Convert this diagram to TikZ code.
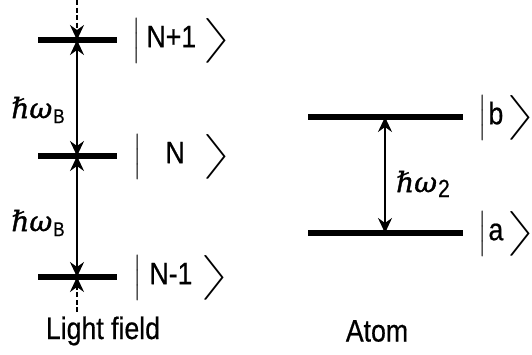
\documentclass[tikz,border=0pt]{standalone}
\usepackage{amsmath}
\usepackage{fontspec}
\setmainfont[FakeBold=0.6,AutoFakeBold=0.6]{Liberation Sans}
\newfontfamily\hfont[FakeBold=1.2,AutoFakeBold=1.2]{DejaVu Serif}
\usetikzlibrary{arrows.meta}
\newcommand\hwsub[2]{{\hfont\itshape ℏω}\kern1pt\raisebox{-5pt}{\fontsize{#2}{#2}\selectfont\scalebox{0.85}[1]{\bfseries #1}}}
\newcommand\ketbar{$\Big|$}
\newcommand\ketang{\scalebox{1.9}[1]{$\Big\rangle$}}
\begin{document}
\begin{tikzpicture}[x=1pt,y=-1pt,
  tip/.tip={Stealth[length=15pt,width=14pt,inset=5pt]},
  level/.style={line width=5.5pt},
  trans/.style={line width=1.8pt,tip-tip},
  feed/.style={line width=1.6pt,dash pattern=on 5pt off 2.5pt,-tip},
  lab/.style={font=\fontsize{31}{30}\selectfont\bfseries,inner sep=0pt},
  energy/.style={font=\fontsize{28}{30}\selectfont,inner sep=0pt}]
\useasboundingbox (0,0) rectangle (532,354);
% light field levels
\coordinate (top) at (77,0);
\coordinate (P) at (77,40);
\coordinate (M) at (77,156);
\coordinate (Q) at (77,277);
\coordinate (bot) at (77,312);
\draw[level] (38,40) -- (117,40);
\draw[level] (38,156) -- (117,156);
\draw[level] (38,277) -- (117,277);
\draw[feed] (top) -- (P);
\draw[trans] (P) -- (M);
\draw[trans] (M) -- (Q);
\draw[feed] (bot) -- (Q);
\node[lab,anchor=west] (kP) at (132,41) {\ketbar\kern6pt\scalebox{0.86}[1]{N+1}\kern6pt\ketang};
\node[lab,anchor=west] (kM) at (133,157) {\ketbar\kern24pt\scalebox{0.86}[1]{N}\kern18pt\ketang};
\node[lab,anchor=west] (kQ) at (133,278) {\ketbar\kern8pt\scalebox{0.86}[1]{N-1}\kern8pt\ketang};
\node[energy] (w1) at (38,110) {\hwsub{B}{20}};
\node[energy] (w2) at (38,223) {\hwsub{B}{20}};
\node[lab] (lf) at (103,331) {\scalebox{0.86}[1]{Light field}};
% atom
\coordinate (B) at (385,117);
\coordinate (A) at (385,233);
\draw[level] (308,117) -- (463,117);
\draw[level] (308,233) -- (463,233);
\draw[trans] (B) -- (A);
\node[energy] (w3) at (423,184) {\hwsub{2}{25}};
\node[lab,anchor=west] (kb) at (478,118) {\ketbar\kern2pt\scalebox{0.86}[1]{b}\kern3pt\ketang};
\node[lab,anchor=west] (ka) at (478,234) {\ketbar\kern2pt\scalebox{0.86}[1]{a}\kern3pt\ketang};
\node[lab] (at) at (377,331) {\scalebox{0.86}[1]{Atom}};
\end{tikzpicture}
\end{document}
